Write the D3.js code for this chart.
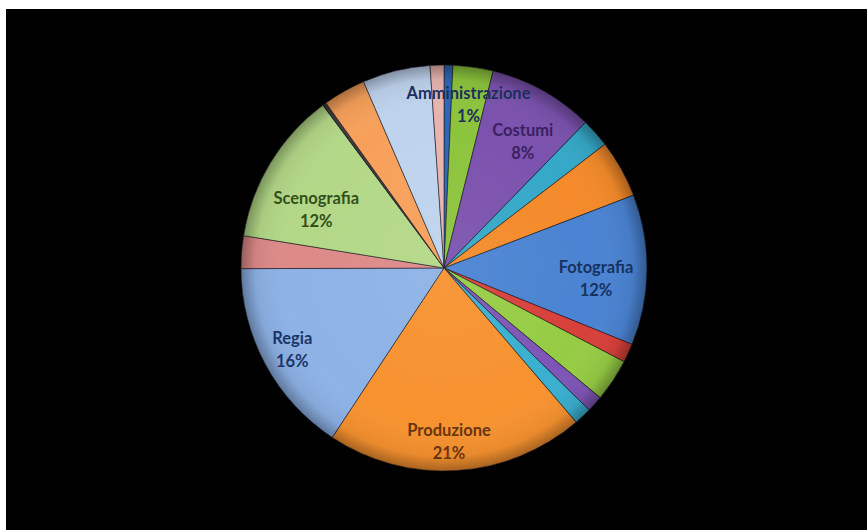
<!DOCTYPE html>
<html>
<head>
<meta charset="utf-8">
<script src="https://cdn.jsdelivr.net/npm/d3@7"></script>
<style>
  html, body { margin: 0; padding: 0; background: #ffffff; }
  svg { display: block; }
</style>
</head>
<body>
<svg id="chart" width="867" height="530"></svg>
<script>
// ---- data (clockwise from 12 o'clock) ----
const categories = ["Amministrazione", "Voce 2", "Costumi", "Voce 4", "Voce 5", "Fotografia",
  "Voce 7", "Voce 8", "Voce 9", "Voce 10", "Produzione", "Regia", "Voce 13", "Scenografia",
  "Voce 15", "Voce 16", "Voce 17", "Voce 18"];
const values = [0.7, 3.2, 8.4, 2.3, 4.6, 12.0, 1.5, 3.4, 1.3, 1.4, 20.6, 15.7, 2.6, 12.3, 0.3, 3.4, 5.4, 1.1];
const labelled = ["Amministrazione", "Costumi", "Fotografia", "Produzione", "Regia", "Scenografia"];

// ---- styles ----
const sliceColors = ["#2F66B4", "#8CC43C", "#7B52AE", "#35A8C8", "#F48A2A", "#4A83D2",
  "#D8403A", "#96CC44", "#7E55B6", "#3AAFCF", "#F7922F", "#8DB2E6",
  "#DD8A88", "#B3D887", "#3C3C3C", "#F7A05A", "#BFD3EE", "#E8B4B0"];
const labelColors = {
  "Amministrazione": "#1d2f5c", "Costumi": "#3a1f62", "Fotografia": "#16325f",
  "Produzione": "#6a3510", "Regia": "#1c3567", "Scenografia": "#33501a"
};
// label placement: offset from centroid at radius 160
const labelShift = {
  "Amministrazione": [21, -4], "Costumi": [1, 13], "Fotografia": [-8, 9],
  "Produzione": [-5, 14], "Regia": [-11, 5], "Scenografia": [9, 25]
};

const W = 867, H = 530;
const cx = 444, cy = 268, R = 203;

const svg = d3.select("#chart");
svg.append("rect").attr("x", 6).attr("y", 9).attr("width", W - 6).attr("height", H - 9).attr("fill", "#000");

const defs = svg.append("defs");
const rg = defs.append("radialGradient").attr("id", "shade").attr("cx", "50%").attr("cy", "50%").attr("r", "50%");
rg.append("stop").attr("offset", "0%").attr("stop-color", "#fff").attr("stop-opacity", 0.06);
rg.append("stop").attr("offset", "75%").attr("stop-color", "#fff").attr("stop-opacity", 0.0);
rg.append("stop").attr("offset", "93%").attr("stop-color", "#000").attr("stop-opacity", 0.06);
rg.append("stop").attr("offset", "100%").attr("stop-color", "#000").attr("stop-opacity", 0.32);

const total = d3.sum(values);
const data = categories.map((c, i) => ({ name: c, value: values[i], color: sliceColors[i] }));

const pie = d3.pie().sort(null).value(d => d.value);
const arcs = pie(data);
const arc = d3.arc().innerRadius(0).outerRadius(R);
const labelArc = d3.arc().innerRadius(160).outerRadius(160);

const g = svg.append("g").attr("transform", `translate(${cx},${cy})`);

g.selectAll("path.slice").data(arcs).enter().append("path")
  .attr("class", "slice")
  .attr("d", arc)
  .attr("fill", d => d.data.color)
  .attr("stroke", "rgba(20,20,30,0.55)")
  .attr("stroke-width", 1);

g.append("circle").attr("r", R).attr("fill", "url(#shade)").attr("pointer-events", "none");

const lab = g.selectAll("g.lab").data(arcs.filter(d => labelled.includes(d.data.name))).enter()
  .append("g").attr("class", "lab")
  .attr("transform", d => {
    const c = labelArc.centroid(d);
    const s = labelShift[d.data.name] || [0, 0];
    return `translate(${c[0] + s[0]},${c[1] + s[1]})`;
  });

const font = "Lato, 'Open Sans', sans-serif";
lab.append("text")
  .attr("text-anchor", "middle")
  .attr("y", -11.5)
  .attr("dominant-baseline", "central")
  .attr("font-family", font)
  .attr("font-size", 16.5)
  .attr("font-weight", "bold")
  .attr("fill", d => labelColors[d.data.name])
  .text(d => d.data.name);

lab.append("text")
  .attr("text-anchor", "middle")
  .attr("y", 11.5)
  .attr("dominant-baseline", "central")
  .attr("font-family", font)
  .attr("font-size", 16.5)
  .attr("font-weight", "bold")
  .attr("fill", d => labelColors[d.data.name])
  .text(d => Math.round(d.data.value / total * 100) + "%");
</script>
</body>
</html>
